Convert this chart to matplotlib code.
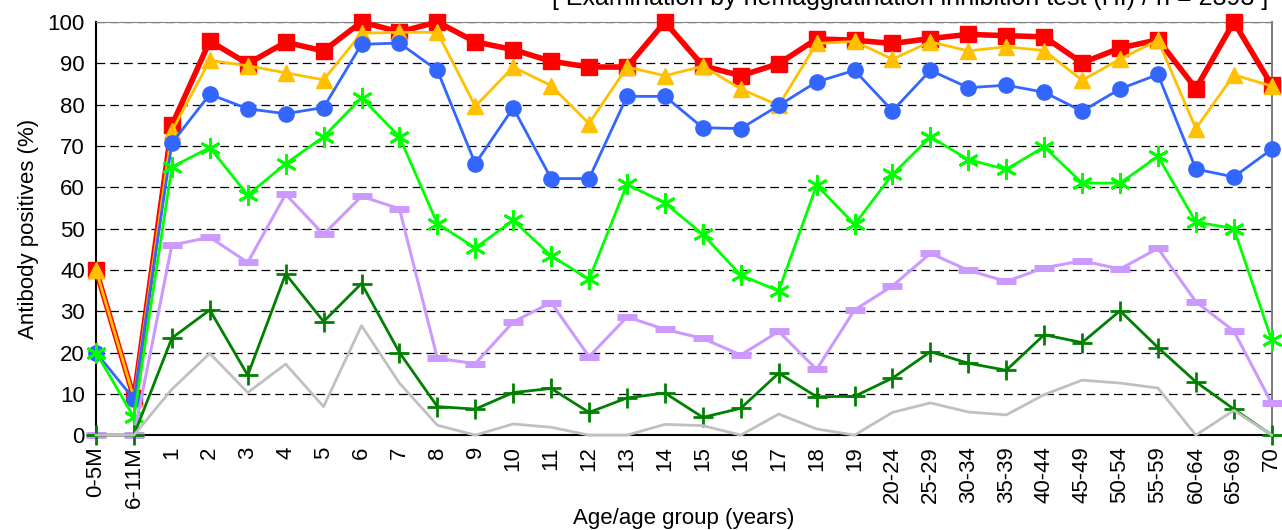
#!/usr/bin/env python3
"""Antibody positive rate by age group, HI test, several titre thresholds."""

import matplotlib
matplotlib.use("Agg")
import matplotlib.pyplot as plt

plt.rcParams["font.family"] = ["Liberation Sans", "DejaVu Sans"]

age_groups = ["0-5M", "6-11M"] + [str(i) for i in range(1, 20)] + [
    "20-24", "25-29", "30-34", "35-39", "40-44", "45-49", "50-54",
    "55-59", "60-64", "65-69", "70",
]

red_sq = [40, 9, 75.0, 95.4, 89.9, 95.1, 93.0, 100, 97.6, 100,
          95.2, 93.3, 90.5, 89.1, 89.1, 100, 89.4, 87.0, 89.9, 95.9, 95.6,
          94.8, 96.0, 97.0, 96.7, 96.4, 90.1, 93.7, 95.7, 83.9, 100, 84.7]
yellow_tri = [40, 9, 73.6, 90.7, 89.4, 87.7, 86.0, 97.3, 97.5, 97.5,
              79.6, 89.1, 84.6, 75.4, 89.1, 87.0, 89.3, 83.8, 79.8, 94.8, 95.3,
              91.0, 95.2, 93.0, 94.0, 93.1, 85.9, 91.0, 95.6, 74.2, 87.2, 84.5]
blue_circ = [20, 8.7, 70.7, 82.5, 79.0, 77.8, 79.3, 94.6, 94.9, 88.3,
             65.7, 79.2, 62.1, 62.1, 82.0, 82.0, 74.4, 74.2, 79.8, 85.5, 88.3,
             78.5, 88.3, 84.1, 84.7, 83.0, 78.4, 83.8, 87.3, 64.4, 62.5, 69.2]
green_star = [20, 4.3, 64.9, 69.6, 58.1, 65.7, 72.2, 81.7, 72.2, 51.2,
              45.3, 52.0, 43.4, 37.7, 60.7, 56.2, 48.6, 38.7, 34.9, 60.5, 51.0,
              63.1, 72.2, 66.7, 64.3, 69.8, 61.0, 61.0, 67.5, 51.6, 50.0, 23.0]
lavender_bar = [0, 0, 46.0, 47.9, 41.8, 58.3, 48.6, 57.8, 54.8, 18.6,
                17.3, 27.4, 32.1, 19.0, 28.6, 25.6, 23.4, 19.4, 25.1, 15.9, 30.3,
                36.1, 44.0, 39.9, 37.2, 40.5, 42.2, 40.2, 45.2, 32.3, 25.2, 7.7]
darkgreen_plus = [0, 0, 23.5, 30.3, 14.5, 39.0, 27.5, 36.7, 20.0, 6.9,
                  6.3, 10.3, 11.3, 5.5, 9.0, 10.2, 4.3, 6.5, 15.0, 9.3, 9.4,
                  13.8, 20.2, 17.4, 15.7, 24.3, 22.4, 30.1, 21.2, 12.9, 6.3, 0]
gray_line = [0, 0, 11.1, 19.8, 10.3, 17.2, 6.9, 26.5, 12.6, 2.4,
             0, 2.7, 1.9, 0, 0, 2.6, 2.3, 0, 5.1, 1.5, 0,
             5.5, 7.8, 5.6, 4.9, 9.8, 13.3, 12.6, 11.4, 0, 6.0, 0]


def main():
    x = list(range(len(age_groups)))
    fig = plt.figure(figsize=(12.82, 5.30), dpi=100)
    ax = fig.add_axes([0.0749, 0.179, 0.9171, 0.7795])

    for v in range(10, 101, 10):
        ax.axhline(v, color="black", linewidth=0.9, linestyle=(0, (7, 4)), zorder=0)

    common = dict(clip_on=False)
    ax.plot(x, red_sq, color="#FF0000", linewidth=4, marker="s", markersize=11,
            zorder=3, **common)
    ax.plot(x, yellow_tri, color="#FFC000", linewidth=2, marker="^", markersize=12,
            zorder=4, **common)
    ax.plot(x, blue_circ, color="#3366FF", linewidth=2, marker="o", markersize=11,
            zorder=5, **common)
    ax.plot(x, green_star, color="#00FF00", linewidth=2, marker=(6, 2, 0),
            markersize=15, markeredgewidth=2, zorder=6, **common)
    ax.plot(x, lavender_bar, color="#CC99FF", linewidth=2.2, marker="_",
            markersize=15, markeredgewidth=5, zorder=7, **common)
    ax.plot(x, darkgreen_plus, color="#008000", linewidth=2, marker="+",
            markersize=15, markeredgewidth=2, zorder=8, **common)
    ax.plot(x, gray_line, color="#C0C0C0", linewidth=2, zorder=9, **common)

    ax.set_xlim(0, len(age_groups) - 1)
    ax.set_ylim(0, 100)
    ax.set_yticks(range(0, 101, 10))
    ax.set_xticks(x)
    ax.set_xticklabels(age_groups, rotation=90)
    ax.tick_params(axis="both", length=0, labelsize=16, pad=8)
    ax.tick_params(axis="x", pad=8)

    ax.spines["left"].set_color("black")
    ax.spines["left"].set_linewidth(1.5)
    ax.spines["bottom"].set_color("black")
    ax.spines["bottom"].set_linewidth(1.5)
    ax.spines["top"].set_color("#808080")
    ax.spines["right"].set_color("#808080")
    ax.spines["right"].set_linewidth(1.5)

    ax.set_ylabel("Antibody positives (%)", fontsize=16, labelpad=6)
    ax.set_xlabel("Age/age group (years)", fontsize=16, labelpad=0)

    fig.text(0.989, 0.991,
             "[ Examination by hemagglutination inhibition test (HI) / n = 2393 ]",
             ha="right", va="baseline", fontsize=18)

    fig.savefig("out.png", dpi=100)


if __name__ == "__main__":
    main()
